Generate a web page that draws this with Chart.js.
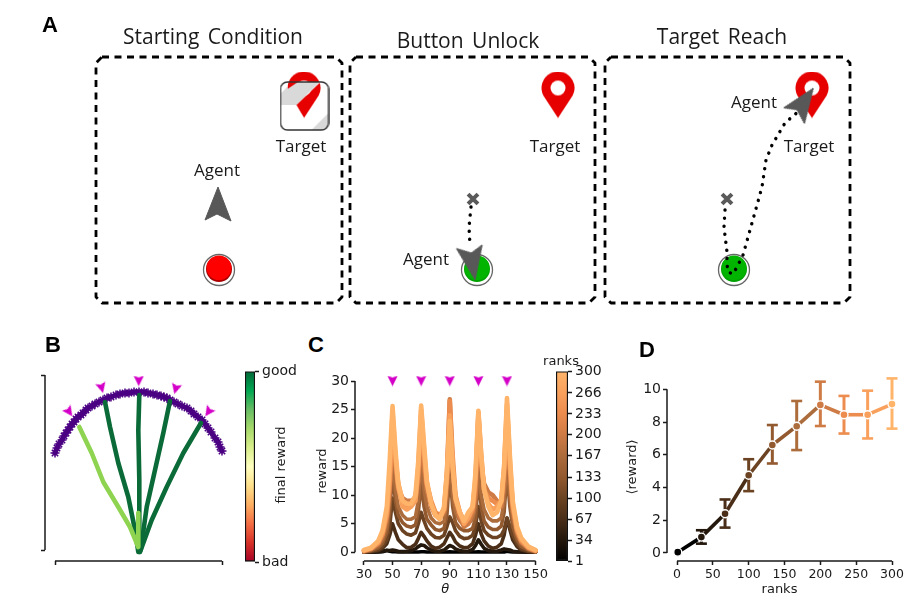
<!DOCTYPE html>
<html lang="en">
<head>
  <meta charset="UTF-8" />
  <title>Agent task and reward by rank</title>
  <script src="https://cdn.jsdelivr.net/npm/chart.js"></script>
  <style>
    body { margin: 0; background: #fff; }
    #page { position: relative; width: 914px; height: 604px; overflow: hidden; }
    canvas { position: absolute; }
    .t { position: absolute; transform: translate(-50%, -50%); white-space: nowrap; color: #1a1a1a; }
    .head { font: 21px "Open Sans", sans-serif; word-spacing: 3px; }
    .name { font: 17px "Open Sans", sans-serif; }
    .letter { font: bold 22px "Liberation Sans", sans-serif; color: #000; }
    .plain { font: 13px "DejaVu Sans", sans-serif; }
  </style>
</head>
<body>
<div id="page">
  <canvas id="chartA" width="914" height="320" style="left:0;top:0"></canvas>
  <canvas id="chartB" width="215" height="220" style="left:20px;top:365px"></canvas>
  <canvas id="barB" width="70" height="215" style="left:240px;top:360px"></canvas>
  <canvas id="chartC" width="240" height="240" style="left:310px;top:360px"></canvas>
  <canvas id="barC" width="60" height="215" style="left:550px;top:360px"></canvas>
  <canvas id="chartD" width="285" height="240" style="left:625px;top:360px"></canvas>

  <div class="t letter" style="left:50px;top:25px">A</div>
  <div class="t letter" style="left:53px;top:345px">B</div>
  <div class="t letter" style="left:316px;top:345px">C</div>
  <div class="t letter" style="left:647px;top:350px">D</div>

  <div class="t head" style="left:213px;top:36px">Starting Condition</div>
  <div class="t head" style="left:468px;top:40px">Button Unlock</div>
  <div class="t head" style="left:722px;top:36px">Target Reach</div>

  <div class="t name" style="left:301px;top:145px">Target</div>
  <div class="t name" style="left:555px;top:145px">Target</div>
  <div class="t name" style="left:809px;top:145px">Target</div>
  <div class="t name" style="left:217px;top:169px">Agent</div>
  <div class="t name" style="left:426px;top:258px">Agent</div>
  <div class="t name" style="left:754px;top:101px">Agent</div>

  <div class="t plain" style="left:561px;top:360px">ranks</div>
</div>

<script>
  // --- panel A, schematic arena ---
  const box1X = [102, 336, 342, 342, 336, 102, 96, 96, 102];
  const box2X = [356, 589, 595, 595, 589, 356, 350, 350, 356];
  const box3X = [611, 844, 850, 850, 844, 611, 605, 605, 611];
  const boxY = [57, 57, 63, 297, 303, 303, 297, 63, 57];
  const pinX = [304, 558, 812];
  const pinY = [95, 95, 95];
  const lockX = [304.5];
  const lockY = [106];
  const agentX = [218, 472, 803];
  const agentY = [205, 262, 103];
  const agentHeading = [0, 170, 35];
  const redButtonX = [219];
  const greenButtonX = [477, 734];
  const buttonY = [270];
  const crossX = [473, 727];
  const crossY = [199, 199];
  const walk2X = [471, 469, 470];
  const walk2Y = [207, 227, 245];
  const walk3X = [725, 724, 727, 727, 728, 733, 737, 740, 743, 752, 762, 766, 772, 785, 800];
  const walk3Y = [210, 227, 252, 264, 272, 274, 267, 261, 255, 223, 187, 160, 145, 123, 110];

  // --- panel B, arc and reaches ---
  const arcX = [-84, -82, -80, -77, -75, -73, -71, -69, -67, -65, -63, -61, -58, -56, -53, -51, -47, -44, -40, -36, -32, -28, -23, -19, -14, -10, -5, 0, 5, 9, 14, 18, 22, 25, 28, 31, 35, 39, 43, 48, 52, 55, 59, 63, 66, 69, 72, 76, 79, 81, 83, 85];
  const arcY = [97, 102, 106, 110, 114, 117, 120, 123, 126, 128, 131, 133, 135, 137, 140, 142, 144, 146, 148, 150, 152, 153, 155, 156, 157, 157, 158, 158, 158, 157, 156, 155, 154, 153, 152, 150, 148, 146, 144, 142, 139, 136, 133, 130, 126, 122, 118, 112, 108, 103, 99, 95];
  const reach1X = [-59.7, -47.3, -35.7, -20.7, -9, -0.7, -0.7];
  const reach1Y = [123, 97, 68, 43, 23, 3, 37];
  const reach2X = [-34, -29, -20.7, -10.7, -4, -0.7];
  const reach2Y = [148, 123, 87, 53, 20, -2];
  const reach3X = [0.3, -0.7, 0.3, 0.3, 0.3];
  const reach3Y = [155, 120, 70, 37, -2];
  const reach4X = [31, 24.3, 16, 7.7, 1.7];
  const reach4Y = [149, 117, 80, 43, 0];
  const reach5X = [62, 44.3, 27.7, 12.7, 1];
  const reach5Y = [127, 97, 63, 30, -2];
  const goalX = [-69.7, -37.3, -0.3, 36.7, 69.3];
  const goalY = [138, 162, 169, 161, 138];
  const goalTurn = [-35, -15, 0, 15, 35];

  // --- panel C, reward against theta, one row per rank ---
  const thetas = [30, 35, 40, 43, 46, 48,
    50, 52, 54, 57, 60, 63, 66, 68,
    70, 72, 74, 77, 80, 83, 86, 88,
    90, 92, 94, 97, 100, 103, 106, 108,
    110, 112, 114, 117, 120, 123, 126, 128,
    130, 132, 134, 137, 140, 145, 150];
  const rank1 = [.02, .02, .05, .1, .3, .2,
    .1, .1, .05, .05, .05, .05, .05, .05,
    .1, .1, .05, .05, .05, .05, .05, .05,
    .1, .05, .05, .05, .05, .05, .05, .05,
    .1, .05, .05, .05, .05, .05, .05, .05,
    .2, .1, .05, .05, .05, .02, .02];
  const rank34 = [.02, .05, .1, .2, .35, .3,
    .4, .3, .2, .15, .2, .3, .6, 1,
    1.3, 1.2, .8, .4, .2, .2, .4, .8,
    1.2, 1, .6, .3, .2, .2, .5, 1.2,
    2.2, 1.4, .7, .3, .2, .2, .4, .6,
    .5, .4, .2, .1, .05, .03, .02];
  const rank67 = [.03, .1, .3, .7, 1.5, 3,
    5, 3.5, 2.2, 1.4, .8, .9, 1.4, 2.4,
    3.5, 2.8, 2, 1.1, .7, .9, 1.5, 2.5,
    3.5, 2.8, 1.8, 1.1, .8, .9, 1.5, 3,
    5, 3.2, 2, 1.1, .7, .9, 1.5, 3,
    6, 4, 2.2, 1, .4, .1, .03];
  const rank100 = [.05, .2, .5, 1, 2.2, 4.5,
    9.5, 7, 5, 3.8, 3.2, 3, 3.4, 5,
    7, 5.5, 4.2, 3.2, 2.6, 2.5, 3, 4.5,
    6.2, 5.2, 3.8, 2.8, 2.4, 2.5, 3, 4.5,
    8, 5.5, 3.8, 3, 2.6, 2.6, 3, 4,
    6, 4.5, 3, 1.5, .6, .2, .05];
  const rank133 = [.1, .3, .8, 1.6, 3.5, 7,
    14, 9, 6.5, 5.2, 4.6, 4.4, 4.8, 7,
    12, 8, 5.8, 4.8, 4, 3.8, 4.2, 6.5,
    14, 8, 5.2, 4.2, 3.8, 3.8, 4.2, 6,
    13, 8, 5.5, 4.4, 4, 4, 4.6, 7,
    14, 8, 4.5, 2.2, 1, .4, .1];
  const rank167 = [.1, .4, 1.1, 2.2, 4.5, 9,
    17, 11, 8, 6.5, 5.8, 5.8, 6.2, 9,
    16, 11, 8, 6, 5.2, 5, 5.4, 9,
    17, 10, 7, 5.5, 4.8, 5, 5.8, 8,
    15, 10, 7.5, 6, 5.5, 5.5, 6, 9,
    16, 10, 6, 3, 1.5, .5, .1];
  const rank200 = [.2, .6, 1.5, 3, 6, 11,
    22, 15, 11, 9.5, 9, 9, 9.5, 12.5,
    20, 15, 11, 8, 6.5, 6, 7, 12,
    26.8, 15, 9, 6, 4.5, 5, 7, 10,
    22, 15, 12, 10.5, 10, 9, 8, 12,
    23, 14, 7.5, 3.5, 1.8, .7, .2];
  const rank233 = [.3, .7, 1.6, 3.2, 6.5, 12,
    23, 16, 12, 9, 8, 8.5, 9.5, 14,
    24, 17, 12, 9, 7, 6.5, 7.5, 14,
    26.5, 17, 10, 7, 5.5, 6, 7.5, 12,
    24, 16, 11, 9.5, 9, 8.5, 9, 14,
    25, 15, 8, 4, 2, .8, .3];
  const rank266 = [.3, .7, 1.8, 3.5, 7, 13.5,
    24.5, 17, 11.5, 8, 7.5, 8, 9, 15,
    25, 18, 12, 8.5, 6.5, 6, 7.5, 13,
    24, 15, 9.5, 7, 5, 6, 8, 13,
    24.5, 17, 11, 8.5, 7.5, 8, 9, 15,
    26, 16, 8.5, 4, 2.2, .9, .3];
  const rank300 = [.4, .8, 2, 3.8, 8, 16,
    25.6, 18, 12, 9, 8.5, 8.5, 10, 16,
    25.7, 19, 12.5, 8.5, 6.5, 5.8, 8, 14,
    23, 15, 9.5, 7, 5.5, 7, 8, 14,
    24.8, 17, 11, 8, 6.5, 7, 9, 15,
    27, 17, 9, 4.5, 2.5, 1, .4];
  const rankCurves = [rank1, rank34, rank67, rank100, rank133, rank167, rank200, rank233, rank266, rank300];
  const peakThetas = [50, 70, 90, 110, 130];
  const peakMarks = [30, 30, 30, 30, 30];

  // --- panel D, mean reward by rank with spread ---
  const ranks = [1, 34, 67, 100, 133, 167, 200, 233, 266, 300];
  const meanReward = [0.05, 0.97, 2.4, 4.75, 6.6, 7.75, 9.05, 8.45, 8.45, 9.1];
  const rewardLow = [0.05, 0.57, 1.55, 3.78, 5.47, 6.29, 7.76, 7.3, 7.0, 7.6];
  const rewardHigh = [0.05, 1.39, 3.27, 5.73, 7.82, 9.29, 10.47, 9.6, 9.92, 10.67];

  // tick labels
  const thetaTicks = [30, 50, 70, 90, 110, 130, 150];
  const rewardTicks = [0, 5, 10, 15, 20, 25, 30];
  const rankTicksC = [1, 34, 67, 100, 133, 167, 200, 233, 266, 300];
  const rankTicksD = [0, 50, 100, 150, 200, 250, 300];
  const meanTicks = [0, 2, 4, 6, 8, 10];

  const rankColors = ['#000000', '#24170c', '#4a2e18', '#6b4322', '#935a30', '#ad6c3c', '#cf7b45', '#ec8c4e', '#f8a05c', '#ffb46a'];
  const rewardColors = ['#a50026', '#d73027', '#f46d43', '#fdae61', '#fee08b', '#ffffbf', '#d9ef8b', '#a6d96a', '#66bd63', '#00a651', '#006837'];
  const DARK_GREEN = '#0b6b38';
  const LIGHT_GREEN = '#8fd450';
  const MAGENTA = '#d400c8';
  const INK = '#1a1a1a';
  const FONT = 'DejaVu Sans';

  Chart.defaults.font.family = FONT;
  Chart.defaults.color = INK;

  function paint(w, h, fn) {
    const c = document.createElement('canvas');
    c.width = w;
    c.height = h;
    fn(c.getContext('2d'));
    return c;
  }

  function poly(ctx, pts) {
    ctx.beginPath();
    pts.forEach((p, i) => i ? ctx.lineTo(p[0], p[1]) : ctx.moveTo(p[0], p[1]));
    ctx.closePath();
  }

  const pinIcon = paint(34, 47, ctx => {
    ctx.fillStyle = '#e60000';
    ctx.beginPath();
    ctx.arc(17, 16.5, 16.5, Math.PI * 0.85, Math.PI * 0.15);
    ctx.lineTo(17, 46.5);
    ctx.closePath();
    ctx.fill();
    ctx.fillStyle = '#fff';
    ctx.beginPath();
    ctx.arc(17, 16.5, 7.5, 0, Math.PI * 2);
    ctx.fill();
  });

  // white tile with grey stripes, windows let the pin underneath show
  const lockIcon = paint(50, 50, ctx => {
    ctx.beginPath();
    ctx.roundRect(1, 1, 48, 48, 7);
    ctx.fillStyle = '#fff';
    ctx.fill();
    ctx.save();
    ctx.clip();
    ctx.fillStyle = '#d9d9d9';
    poly(ctx, [[0, 14], [13, 0], [41, 0], [17, 24], [0, 24]]);
    ctx.fill();
    poly(ctx, [[50, 31], [31, 50], [50, 50]]);
    ctx.fill();
    ctx.globalCompositeOperation = 'destination-out';
    poly(ctx, [[17, 24], [41, 1], [50, 12], [26, 40]]);
    ctx.fill();
    poly(ctx, [[8, 8], [20, 0], [8, 0]]);
    ctx.fill();
    ctx.restore();
    ctx.beginPath();
    ctx.roundRect(1, 1, 48, 48, 7);
    ctx.strokeStyle = '#333';
    ctx.lineWidth = 1.4;
    ctx.stroke();
  });

  const agentIcon = paint(28, 38, ctx => {
    poly(ctx, [[14, 1], [1, 34], [13, 28], [27, 35]]);
    ctx.fillStyle = '#585858';
    ctx.strokeStyle = '#585858';
    ctx.lineJoin = 'round';
    ctx.fill();
    ctx.stroke();
  });

  function buttonIcon(top, lip) {
    return paint(36, 36, ctx => {
      ctx.beginPath();
      ctx.arc(18, 18, 15.5, 0, Math.PI * 2);
      ctx.fillStyle = '#fff';
      ctx.fill();
      ctx.strokeStyle = '#666';
      ctx.lineWidth = 1.3;
      ctx.stroke();
      ctx.beginPath();
      ctx.arc(18, 17, 13, 0, Math.PI * 2);
      ctx.fillStyle = lip;
      ctx.fill();
      ctx.beginPath();
      ctx.arc(18, 15.8, 12.4, 0, Math.PI * 2);
      ctx.fillStyle = top;
      ctx.fill();
    });
  }

  function goalIcon(size) {
    return paint(size, size, ctx => {
      ctx.scale(size / 10, size / 10);
      poly(ctx, [[0.3, 0.3], [5, 1.8], [9.7, 0.3], [5, 9.8]]);
      ctx.fillStyle = MAGENTA;
      ctx.fill();
    });
  }

  function xy(xs, ys) {
    return xs.map((x, i) => ({ x, y: ys[i] }));
  }

  // first dataset in a list is drawn at the back here
  function layered(list) {
    return list.map((d, i) => ({ clip: false, ...d, order: list.length - i }));
  }

  function path(xs, ys, color, width, extra) {
    return { data: xy(xs, ys), borderColor: color, borderWidth: width, pointRadius: 0, borderCapStyle: 'round', borderJoinStyle: 'round', ...extra };
  }

  function marks(xs, ys, style, extra) {
    return { data: xy(xs, ys), showLine: false, pointStyle: style, pointRadius: 8, ...extra };
  }

  // spine only runs between the outer ticks, offset from the data like despine
  const spines = {
    id: 'spines',
    afterDraw(chart) {
      const ctx = chart.ctx;
      ctx.save();
      ctx.strokeStyle = INK;
      ctx.lineWidth = 1.5;
      ctx.beginPath();
      ['x', 'y'].forEach(id => {
        const s = chart.scales[id];
        const a = s.getPixelForValue(s.ticks[0].value);
        const b = s.getPixelForValue(s.ticks[s.ticks.length - 1].value);
        if (id === 'x') { ctx.moveTo(a, s.top); ctx.lineTo(b, s.top); }
        else { ctx.moveTo(s.right, a); ctx.lineTo(s.right, b); }
      });
      ctx.stroke();
      ctx.restore();
    }
  };

  // colorbar title reads bottom to top, a right axis title would read the other way
  const finalRewardTitle = {
    id: 'finalRewardTitle',
    afterDraw(chart) {
      const ctx = chart.ctx;
      ctx.save();
      ctx.translate(42, 105);
      ctx.rotate(-Math.PI / 2);
      ctx.font = '13px "' + FONT + '"';
      ctx.fillStyle = INK;
      ctx.textAlign = 'center';
      ctx.textBaseline = 'middle';
      ctx.fillText('final reward', 0, 0);
      ctx.restore();
    }
  };

  function axis(min, max, tickValues, boxSize, fontSize, showLabels, title) {
    return {
      type: 'linear',
      min,
      max,
      afterBuildTicks: s => { s.ticks = tickValues.map(value => ({ value })); },
      afterFit: s => {
        if (s.isHorizontal()) s.height = boxSize; else s.width = boxSize;
      },
      border: { display: false },
      grid: { drawOnChartArea: false, drawTicks: true, tickLength: 4, tickWidth: 1.5, tickColor: INK },
      ticks: { display: showLabels, autoSkip: false, maxRotation: 0, padding: 2, font: { size: fontSize } },
      title: title || { display: false }
    };
  }

  function base(padding, scales) {
    return {
      responsive: false,
      animation: false,
      layout: { autoPadding: false, padding },
      plugins: { legend: { display: false }, tooltip: { enabled: false } },
      scales
    };
  }

  // panel A
  new Chart(document.getElementById('chartA'), {
    type: 'line',
    data: {
      datasets: layered([
        path(box1X, boxY, '#000', 2.8, { borderDash: [7, 5.5], borderCapStyle: 'butt' }),
        path(box2X, boxY, '#000', 2.8, { borderDash: [7, 5.5], borderCapStyle: 'butt' }),
        path(box3X, boxY, '#000', 2.8, { borderDash: [7, 5.5], borderCapStyle: 'butt' }),
        marks(pinX, pinY, pinIcon),
        marks(lockX, lockY, lockIcon),
        marks(redButtonX, buttonY, buttonIcon('#ff0000', '#a80000')),
        marks(greenButtonX, [buttonY[0], buttonY[0]], buttonIcon('#00b400', '#00a000')),
        path(walk2X, walk2Y, '#000', 3.4, { borderDash: [0.1, 8] }),
        path(walk3X, walk3Y, '#000', 3.4, { borderDash: [0.1, 8] }),
        marks(crossX, crossY, 'crossRot', { pointRadius: 7, pointBorderColor: '#5a5a5a', pointBorderWidth: 4 }),
        marks(agentX, agentY, agentIcon, { pointRotation: agentHeading })
      ])
    },
    options: base(0, {
      x: { type: 'linear', min: 0, max: 914, display: false },
      y: { type: 'linear', min: 0, max: 320, reverse: true, display: false }
    })
  });

  // panel B
  new Chart(document.getElementById('chartB'), {
    type: 'line',
    data: {
      datasets: layered([
        path(arcX, arcY, '#4b0082', 5, { tension: 0.3, pointRadius: 4.5, pointStyle: 'star', pointBorderColor: '#4b0082', pointBorderWidth: 1.5 }),
        path(reach2X, reach2Y, DARK_GREEN, 4.6),
        path(reach3X, reach3Y, DARK_GREEN, 4.6),
        path(reach4X, reach4Y, DARK_GREEN, 4.6),
        path(reach5X, reach5Y, DARK_GREEN, 4.6),
        path(reach1X, reach1Y, LIGHT_GREEN, 4.6),
        marks(goalX, goalY, goalIcon(11), { pointRotation: goalTurn })
      ])
    },
    plugins: [spines],
    options: base({ top: 10, right: 13 }, {
      x: axis(-94, 83, [-84, 83], 24, 12, false),
      y: axis(-11, 175, [0, 175], 25, 12, false)
    })
  });

  function colorBar(id, colors, padding, min, max, tickValues, tickText, extraPlugins) {
    const yAxis = axis(min, max, tickValues, 0, 14, true);
    yAxis.position = 'right';
    yAxis.afterFit = s => { s.width = id === 'barB' ? 55 : 42; };
    yAxis.ticks.padding = 3;
    if (tickText) yAxis.ticks.callback = tickText;
    new Chart(document.getElementById(id), {
      type: 'bar',
      data: {
        labels: ['scale'],
        datasets: [{
          data: [[min, max]],
          barPercentage: 1,
          categoryPercentage: 1,
          borderColor: '#111',
          borderWidth: 1.5,
          borderSkipped: false,
          backgroundColor: c => {
            const area = c.chart.chartArea;
            if (!area) return colors[0];
            const g = c.chart.ctx.createLinearGradient(0, area.bottom, 0, area.top);
            colors.forEach((col, i) => g.addColorStop(i / (colors.length - 1), col));
            return g;
          }
        }]
      },
      plugins: extraPlugins || [],
      options: base(padding, { x: { display: false }, y: yAxis })
    });
  }

  colorBar('barB', rewardColors, { left: 5, top: 9, bottom: 13 }, 0, 1, [0, 1], v => (v === 1 ? 'good' : 'bad'), [finalRewardTitle]);
  colorBar('barC', rankColors, { left: 6, top: 10, bottom: 14 }, 1, 300, rankTicksC);

  // panel C
  new Chart(document.getElementById('chartC'), {
    type: 'line',
    data: {
      datasets: layered([
        ...rankCurves.map((vals, i) => path(thetas, vals, rankColors[i], i < 6 ? 3.6 : 4.6)),
        marks(peakThetas, peakMarks, goalIcon(11))
      ])
    },
    plugins: [spines],
    options: base({ top: 21, right: 13 }, {
      x: axis(23.75, 150, thetaTicks, 39, 13, true, { display: true, text: 'θ', font: { size: 13, style: 'italic' }, padding: { top: 0, bottom: 3 } }),
      y: axis(-1.52, 30, rewardTicks, 45, 14, true, { display: true, text: 'reward', font: { size: 13 }, padding: { top: 5, bottom: 0 } })
    })
  });

  // panel D
  new Chart(document.getElementById('chartD'), {
    type: 'line',
    data: {
      datasets: layered([
        ...ranks.map((r, i) => ({
          data: [{ x: r, y: rewardLow[i] }, { x: r, y: rewardHigh[i] }],
          borderColor: rankColors[i],
          borderWidth: 3,
          pointStyle: 'line',
          pointRadius: i === 0 ? 0 : 5.5,
          pointBorderColor: rankColors[i],
          pointBorderWidth: 2.6
        })),
        {
          data: xy(ranks, meanReward),
          borderWidth: 3.6,
          borderColor: rankColors[0],
          segment: { borderColor: c => rankColors[c.p0DataIndex] },
          pointRadius: 4,
          pointBackgroundColor: rankColors,
          pointBorderColor: '#fff',
          pointBorderWidth: 1.4
        }
      ])
    },
    plugins: [spines],
    options: base({ top: 13, right: 18 }, {
      x: axis(-14, 300, rankTicksD, 39, 12.5, true, { display: true, text: 'ranks', font: { size: 13 }, padding: { top: 0, bottom: 3 } }),
      y: axis(-0.49, 11, meanTicks, 42, 14, true, { display: true, text: '⟨reward⟩', font: { size: 13 }, padding: { top: 0, bottom: 0 } })
    })
  });
</script>
</body>
</html>
